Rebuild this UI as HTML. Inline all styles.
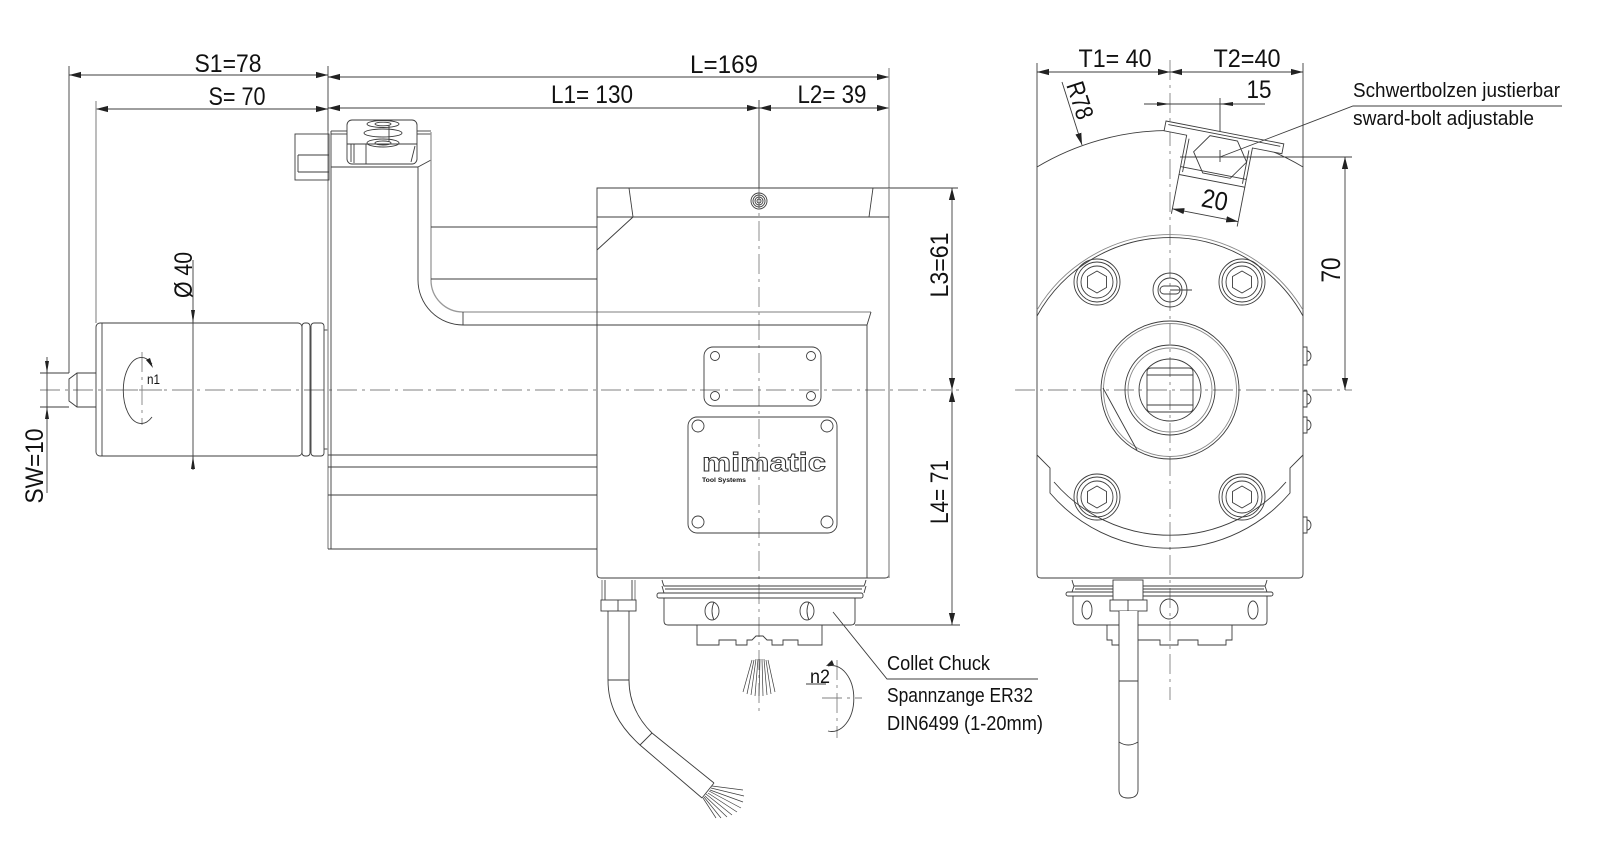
<!DOCTYPE html>
<html><head><meta charset="utf-8"><title>Drawing</title><style>
html,body{margin:0;padding:0;background:#fff;}
svg{display:block}
text{font-family:"Liberation Sans Narrow","Liberation Sans",sans-serif;fill:#111;stroke:none;}
</style></head><body>
<svg width="1600" height="848" viewBox="0 0 1600 848" xmlns="http://www.w3.org/2000/svg">
<defs>
<marker id="ar" viewBox="0 0 12 8" refX="12" refY="4" markerWidth="12" markerHeight="8" markerUnits="userSpaceOnUse" orient="auto-start-reverse"><path d="M0,0.9 L12,4 L0,7.1z" fill="#222"/></marker>
<g id="bolt">
<circle r="23"/><circle r="20"/><circle r="16"/>
<polygon points="0,-11 9.5,-5.5 9.5,5.5 0,11 -9.5,5.5 -9.5,-5.5"/>
</g>
</defs>
<rect width="1600" height="848" fill="#fff"/>

<!-- ============ CENTER LINES ============ -->
<g fill="none" stroke="#808080" stroke-width="0.9" stroke-dasharray="20 5 3 5">
<line x1="40" y1="390" x2="960" y2="390"/>
<line x1="759" y1="188" x2="759" y2="712"/>
<line x1="1015" y1="390" x2="1352" y2="390"/>
<line x1="1170" y1="60" x2="1170" y2="700"/>
<line x1="142" y1="352" x2="142" y2="425"/>
<line x1="118" y1="390" x2="162" y2="390"/>
<line x1="837" y1="660" x2="837" y2="738"/>
<line x1="822" y1="698" x2="862" y2="698"/>
</g>

<g fill="none" stroke="#3c3c3c" stroke-width="0.9">
<!-- ============ DIMENSIONS: MAIN VIEW ============ -->
<line x1="69" y1="75" x2="328" y2="75" marker-start="url(#ar)" marker-end="url(#ar)"/>
<line x1="328" y1="77" x2="889" y2="77" marker-start="url(#ar)" marker-end="url(#ar)"/>
<line x1="96" y1="109" x2="328" y2="109" marker-start="url(#ar)" marker-end="url(#ar)"/>
<line x1="328" y1="108" x2="759" y2="108" marker-start="url(#ar)" marker-end="url(#ar)"/>
<line x1="759" y1="108" x2="889" y2="108" marker-start="url(#ar)" marker-end="url(#ar)"/>
<line x1="69" y1="66" x2="69" y2="373"/>
<line x1="96" y1="101" x2="96" y2="323" stroke="#999" stroke-width="1.3"/>
<line x1="328" y1="66" x2="328" y2="131"/>
<line x1="889" y1="68" x2="889" y2="188" stroke="#999" stroke-width="1.3"/>
<line x1="759" y1="100" x2="759" y2="188"/>
<!-- Ø40 -->
<line x1="193" y1="260" x2="193" y2="470"/>
<!-- SW -->
<line x1="47" y1="357" x2="47" y2="493"/>
<line x1="40" y1="373" x2="69" y2="373"/>
<line x1="40" y1="407" x2="69" y2="407"/>
<!-- L3 / L4 -->
<line x1="952" y1="188" x2="952" y2="390" marker-start="url(#ar)" marker-end="url(#ar)"/>
<line x1="952" y1="390" x2="952" y2="625" marker-start="url(#ar)" marker-end="url(#ar)"/>
<line x1="889" y1="188" x2="958" y2="188"/>
<line x1="855" y1="625" x2="960" y2="625"/>

<!-- ============ DIMENSIONS: RIGHT VIEW ============ -->
<line x1="1037" y1="72" x2="1170" y2="72" marker-start="url(#ar)" marker-end="url(#ar)"/>
<line x1="1170" y1="72" x2="1303" y2="72" marker-start="url(#ar)" marker-end="url(#ar)"/>
<line x1="1037" y1="63" x2="1037" y2="167"/>
<line x1="1303" y1="63" x2="1303" y2="167"/>
<line x1="1144" y1="104" x2="1265" y2="104"/>
<line x1="1220" y1="98" x2="1220" y2="162"/>
<line x1="1180" y1="157" x2="1352" y2="157"/>
<line x1="1345" y1="157" x2="1345" y2="390" marker-start="url(#ar)" marker-end="url(#ar)"/>
<line x1="1062" y1="82" x2="1082" y2="145" marker-end="url(#ar)"/>
<!-- leaders -->
<polyline points="833,612 887,679 1038,679"/>
</g>
<!-- manual arrows -->
<g fill="#222" stroke="none">
<polygon points="193,323 191,310 195,310"/>
<polygon points="193,456 191,469 195,469"/>
<polygon points="47,373 45,361 49,361"/>
<polygon points="47,407 45,419 49,419"/>
<polygon points="1170,104 1157,102 1157,106"/>
<polygon points="1220,104 1233,102 1233,106"/>
</g>

<!-- ============ MAIN VIEW PARTS ============ -->
<g fill="none" stroke="#3c3c3c" stroke-width="0.9">
<!-- shaft -->
<path d="M96,373 H77 L69,379 V401 L77,407 H96"/>
<line x1="77" y1="373" x2="77" y2="407"/>
<!-- cylinder -->
<rect x="96" y="323" width="206" height="133" rx="4"/>
<line x1="102" y1="323" x2="102" y2="456"/>
<rect x="302" y="323" width="8" height="133" rx="3"/>
<rect x="311" y="323" width="13" height="133" rx="3"/>
<line x1="324" y1="330" x2="328" y2="330"/>
<line x1="324" y1="449" x2="328" y2="449"/>
<!-- body left plate -->
<line x1="328" y1="131" x2="328" y2="549" stroke="#999" stroke-width="1.4"/>
<line x1="331" y1="131" x2="331" y2="549"/>
<line x1="328" y1="455" x2="597" y2="455"/>
<line x1="328" y1="467" x2="597" y2="467"/>
<line x1="328" y1="495" x2="597" y2="495"/>
<line x1="328" y1="549" x2="597" y2="549"/>
<!-- small left block -->
<rect x="295" y="134" width="34" height="46"/>
<line x1="298" y1="155" x2="298" y2="172"/>
<line x1="298" y1="155" x2="329" y2="155"/>
<line x1="298" y1="172" x2="329" y2="172"/>
<!-- top lines -->
<line x1="331" y1="131" x2="347" y2="131"/>
<line x1="331" y1="134" x2="347" y2="134"/>
<line x1="417" y1="131" x2="431" y2="131"/>
<line x1="417" y1="134" x2="431" y2="134"/>
<!-- clamp block -->
<rect x="347" y="120" width="70" height="44" rx="5" fill="#fff"/>
<line x1="347" y1="144" x2="417" y2="144"/>
<ellipse cx="383" cy="124" rx="16" ry="3.5"/>
<ellipse cx="383" cy="133" rx="19" ry="4"/>
<ellipse cx="383" cy="143" rx="16" ry="4"/>
<ellipse cx="383" cy="143" rx="8" ry="2"/>
<ellipse cx="383" cy="124" rx="8" ry="1.8"/>
<line x1="389" y1="125" x2="389" y2="142"/>
<line x1="351" y1="144" x2="351" y2="162"/>
<line x1="354" y1="144" x2="354" y2="163"/>
<line x1="366" y1="144" x2="366" y2="164"/>
<line x1="415" y1="146" x2="411" y2="162"/>
<!-- arm -->
<line x1="331" y1="167" x2="418" y2="167"/>
<line x1="418" y1="167" x2="431" y2="160"/>
<path d="M418,167 V280 A45,45 0 0 0 463,325 H867"/>
<path d="M431,132 V280 A32,32 0 0 0 463,312 H871" stroke="#999" stroke-width="1.3"/>
<line x1="463" y1="312" x2="463" y2="325"/>
<line x1="431" y1="227" x2="597" y2="227"/>
<line x1="431" y1="279" x2="597" y2="279"/>
<!-- main body -->
<path d="M597,188 H889 V574 Q889,578 885,578 H601 Q597,578 597,574 Z" fill="none"/>
<line x1="889" y1="188" x2="889" y2="578" stroke="#999" stroke-width="1.4"/>
<line x1="597" y1="217" x2="889" y2="217"/>
<line x1="629" y1="188" x2="633" y2="217"/>
<line x1="633" y1="217" x2="597" y2="250"/>
<line x1="873" y1="188" x2="869" y2="217"/>
<line x1="871" y1="312" x2="867" y2="325"/>
<line x1="867" y1="325" x2="867" y2="578"/>
<circle cx="759" cy="201" r="8"/><circle cx="759" cy="201" r="6"/><circle cx="759" cy="201" r="4"/><circle cx="759" cy="201" r="2"/>
<!-- plates -->
<rect x="704" y="347" width="117" height="59" rx="9"/>
<circle cx="715" cy="356" r="4.5"/><circle cx="811" cy="356" r="4.5"/>
<circle cx="715" cy="396" r="4.5"/><circle cx="811" cy="396" r="4.5"/>
<rect x="688" y="417" width="149" height="116" rx="9"/>
<circle cx="698" cy="426" r="6"/><circle cx="827" cy="426" r="6"/>
<circle cx="698" cy="522" r="6"/><circle cx="827" cy="522" r="6"/>

<!-- chuck main view -->
<path d="M662,580 Q663,584 664,586 H864 Q865,584 866,580"/>
<line x1="662" y1="586" x2="664" y2="593"/>
<line x1="866" y1="586" x2="864" y2="593"/>
<line x1="665" y1="589" x2="862" y2="589"/>
<rect x="657" y="593" width="206" height="5" rx="2"/>
<path d="M664,598 V621 Q664,625 668,625 H851 Q855,625 855,621 V598"/>
<ellipse cx="712" cy="611" rx="7" ry="9"/>
<path d="M714,602 Q710,611 714,620"/>
<ellipse cx="807" cy="611" rx="7" ry="9"/>
<path d="M809,602 Q805,611 809,620"/>
<path d="M697,625 V645 H719 V640 H736 V645 H747 V640 H752 L756,636 H763 L767,640 H772 V645 H783 V640 H798 V645 H822 V625"/>
<!-- cable main -->
<line x1="602" y1="580" x2="602" y2="600" stroke="#999" stroke-width="1.3"/>
<line x1="635" y1="580" x2="635" y2="600" stroke="#999" stroke-width="1.3"/>
<line x1="605" y1="580" x2="605" y2="600"/>
<line x1="632" y1="580" x2="632" y2="600"/>
<rect x="601" y="600" width="35" height="11"/>
<line x1="618" y1="600" x2="618" y2="611"/>
<path d="M608,611 V680 C608,705 618,725 640,745 L702,798"/>
<path d="M629,611 V680 C629,700 637,718 652,733 L714,783"/>
<line x1="608" y1="680" x2="629" y2="680"/>
<line x1="640" y1="745" x2="652" y2="733"/>
<line x1="702" y1="798" x2="714" y2="783"/>
<g stroke-width="0.7">
<line x1="712" y1="786" x2="743" y2="790"/>
<line x1="711" y1="788" x2="744" y2="796"/>
<line x1="710" y1="790" x2="743" y2="802"/>
<line x1="709" y1="791" x2="741" y2="808"/>
<line x1="708" y1="793" x2="737" y2="812"/>
<line x1="706" y1="794" x2="732" y2="815"/>
<line x1="705" y1="796" x2="727" y2="817"/>
<line x1="704" y1="797" x2="721" y2="818"/>
<line x1="703" y1="798" x2="716" y2="818"/>
<!-- coolant spray -->
<line x1="752" y1="660" x2="743" y2="692"/>
<line x1="754" y1="660" x2="747" y2="694"/>
<line x1="756" y1="659" x2="751" y2="695"/>
<line x1="758" y1="659" x2="755" y2="696"/>
<line x1="760" y1="659" x2="759" y2="696"/>
<line x1="762" y1="659" x2="763" y2="696"/>
<line x1="764" y1="659" x2="767" y2="695"/>
<line x1="766" y1="660" x2="771" y2="694"/>
<line x1="768" y1="660" x2="775" y2="692"/>
</g>
<!-- n1 symbol -->
<path d="M152,364 A18,33 0 1 0 152,417"/>
<!-- n2 symbol -->
<path d="M828,666 A22,33 0 1 1 828,731"/>
<line x1="806" y1="684" x2="826" y2="684"/>
</g>
<g fill="#222">
<polygon points="153,368 146,360 150,358"/>
<polygon points="826,666 832,660 834,665"/>
</g>

<!-- ============ RIGHT VIEW PARTS ============ -->
<g fill="none" stroke="#3c3c3c" stroke-width="0.9">
<path d="M1037,574 V167 A260,260 0 0 1 1303,167 V574 Q1303,578 1299,578 H1041 Q1037,578 1037,574 Z"/>
<!-- flange -->
<path d="M1037,316 A152,152 0 0 1 1303,316"/>
<path d="M1037,310 A155,155 0 0 1 1303,310" stroke="#888"/>
<path d="M1037,455 L1050,468 V493 A158,158 0 0 0 1290,493 V468 L1303,455"/>
<path d="M1054,482 A153,153 0 0 0 1286,482"/>
<!-- bolts -->
<use href="#bolt" x="1097" y="282"/>
<use href="#bolt" x="1242" y="282"/>
<use href="#bolt" x="1097" y="497"/>
<use href="#bolt" x="1242" y="497"/>
<!-- small screw -->
<circle cx="1170" cy="290" r="17"/>
<circle cx="1170" cy="290" r="12"/>
<rect x="1160" y="286" width="20" height="8" rx="4"/>
<line x1="1170" y1="290" x2="1192" y2="290"/>
<!-- spindle -->
<circle cx="1170" cy="390" r="69"/>
<circle cx="1170" cy="390" r="66.5" stroke="#888"/>
<circle cx="1170" cy="390" r="45"/>
<circle cx="1170" cy="390" r="42" stroke="#888"/>
<circle cx="1170" cy="390" r="31"/>
<path d="M1147,372 Q1147,368 1151,368 H1189 Q1193,368 1193,372 V408 Q1193,412 1189,412 H1151 Q1147,412 1147,408 Z"/>
<line x1="1147" y1="375" x2="1193" y2="375"/>
<line x1="1147" y1="405" x2="1193" y2="405"/>
<line x1="1103" y1="388" x2="1137" y2="450"/>
<!-- bumps -->
<path d="M1303,347 H1307 V365 H1303"/><path d="M1307,351 A4,5 0 0 1 1307,361"/>
<path d="M1303,391 H1307 V407 H1303"/><path d="M1307,394 A4,5 0 0 1 1307,404"/>
<path d="M1303,417 H1307 V433 H1303"/><path d="M1307,420 A4,5 0 0 1 1307,430"/>
<path d="M1303,517 H1307 V533 H1303"/><path d="M1307,520 A4,5 0 0 1 1307,530"/>
<!-- sword bolt bracket -->
<g transform="translate(1166,121) rotate(11)">
<path d="M0,0 L120,0 L120,10 L90,10 L90,50 L23,50 L23,10 L0,10 Z" fill="#fff"/>
<path d="M3,3 L117,3 M26,13 L26,47 M87,13 L87,47"/>
<line x1="23" y1="42" x2="90" y2="42"/>
<polygon points="33,25 46,6 74,6 87,25 74,44 46,44"/>
<line x1="23" y1="50" x2="23" y2="90"/>
<line x1="90" y1="50" x2="90" y2="90"/>
<line x1="23" y1="85" x2="90" y2="85" marker-start="url(#ar)" marker-end="url(#ar)"/>
<text x="63" y="77" font-size="26" text-anchor="middle" textLength="26" lengthAdjust="spacingAndGlyphs">20</text>
</g>
<!-- leader on top of bracket -->
<polyline points="1220,157 1353,106 1562,106"/>
<line x1="1220" y1="150" x2="1220" y2="162"/>
<line x1="1180" y1="157" x2="1260" y2="157"/>
<!-- chuck right view -->
<path d="M1072,580 Q1073,584 1074,586 H1265 Q1266,584 1267,580"/>
<line x1="1074" y1="586" x2="1072" y2="592"/>
<line x1="1265" y1="586" x2="1267" y2="592"/>
<line x1="1075" y1="589" x2="1264" y2="589"/>
<rect x="1066" y="592" width="207" height="4" rx="2"/>
<path d="M1073,596 V621 Q1073,625 1077,625 H1263 Q1267,625 1267,621 V596"/>
<ellipse cx="1087" cy="610" rx="5" ry="9"/>
<ellipse cx="1169" cy="609" rx="9" ry="10"/>
<ellipse cx="1253" cy="610" rx="5" ry="9"/>
<path d="M1107,625 V640 H1112 V645 H1130 V640 H1160 V645 H1178 V640 H1198 V645 H1226 V640 H1232 V625"/>
<!-- cable right -->
<rect x="1113" y="580" width="30" height="20" fill="#fff"/>
<rect x="1110" y="600" width="37" height="11" fill="#fff"/>
<line x1="1128" y1="600" x2="1128" y2="611"/>
<path d="M1119,611 V790 Q1119,798 1128,798 Q1138,798 1138,790 V611" fill="#fff"/>
<line x1="1119" y1="681" x2="1138" y2="681"/>
<path d="M1119,742 Q1128,748 1138,742"/>
</g>

<!-- ============ TEXT ============ -->
<g font-size="25">
<text x="228" y="72" text-anchor="middle" textLength="67" lengthAdjust="spacingAndGlyphs">S1=78</text>
<text x="237" y="105" text-anchor="middle" textLength="57" lengthAdjust="spacingAndGlyphs">S= 70</text>
<text x="724" y="73" text-anchor="middle" textLength="68" lengthAdjust="spacingAndGlyphs">L=169</text>
<text x="592" y="103" text-anchor="middle" textLength="82" lengthAdjust="spacingAndGlyphs">L1= 130</text>
<text x="832" y="103" text-anchor="middle" textLength="69" lengthAdjust="spacingAndGlyphs">L2= 39</text>
<text x="1115" y="67" text-anchor="middle" textLength="73" lengthAdjust="spacingAndGlyphs">T1= 40</text>
<text x="1247" y="67" text-anchor="middle" textLength="67" lengthAdjust="spacingAndGlyphs">T2=40</text>
<text x="1259" y="98" text-anchor="middle" textLength="25" lengthAdjust="spacingAndGlyphs">15</text>
<text transform="translate(192,275) rotate(-90)" text-anchor="middle" textLength="46" lengthAdjust="spacingAndGlyphs">Ø 40</text>
<text transform="translate(43,466) rotate(-90)" text-anchor="middle" textLength="75" lengthAdjust="spacingAndGlyphs">SW=10</text>
<text transform="translate(948,265) rotate(-90)" text-anchor="middle" textLength="65" lengthAdjust="spacingAndGlyphs">L3=61</text>
<text transform="translate(948,492) rotate(-90)" text-anchor="middle" textLength="64" lengthAdjust="spacingAndGlyphs">L4= 71</text>
<text transform="translate(1340,270) rotate(-90)" text-anchor="middle" font-size="27" textLength="25" lengthAdjust="spacingAndGlyphs">70</text>
<text transform="translate(1072,103) rotate(72)" text-anchor="middle" textLength="38" lengthAdjust="spacingAndGlyphs">R78</text>
</g>
<g font-size="20">
<text x="1353" y="97" textLength="207" lengthAdjust="spacingAndGlyphs">Schwertbolzen justierbar</text>
<text x="1353" y="125" textLength="181" lengthAdjust="spacingAndGlyphs">sward-bolt adjustable</text>
<text x="887" y="670" textLength="103" lengthAdjust="spacingAndGlyphs">Collet Chuck</text>
<text x="887" y="702" textLength="146" lengthAdjust="spacingAndGlyphs">Spannzange ER32</text>
<text x="887" y="730" textLength="156" lengthAdjust="spacingAndGlyphs">DIN6499 (1-20mm)</text>
<text x="810" y="683" font-size="19" textLength="20" lengthAdjust="spacingAndGlyphs">n2</text>
</g>
<text x="147" y="384" font-size="14" textLength="13" lengthAdjust="spacingAndGlyphs">n1</text>
<text x="764" y="471" font-size="26" font-weight="bold" text-anchor="middle" textLength="124" lengthAdjust="spacingAndGlyphs" style="fill:#fff;stroke:#333;stroke-width:0.9;font-family:'Liberation Sans',sans-serif">mimatic</text>
<text x="702" y="482" font-size="6" font-weight="bold" textLength="44" lengthAdjust="spacingAndGlyphs" style="font-family:'Liberation Sans',sans-serif">Tool Systems</text>
</svg>
</body></html>
